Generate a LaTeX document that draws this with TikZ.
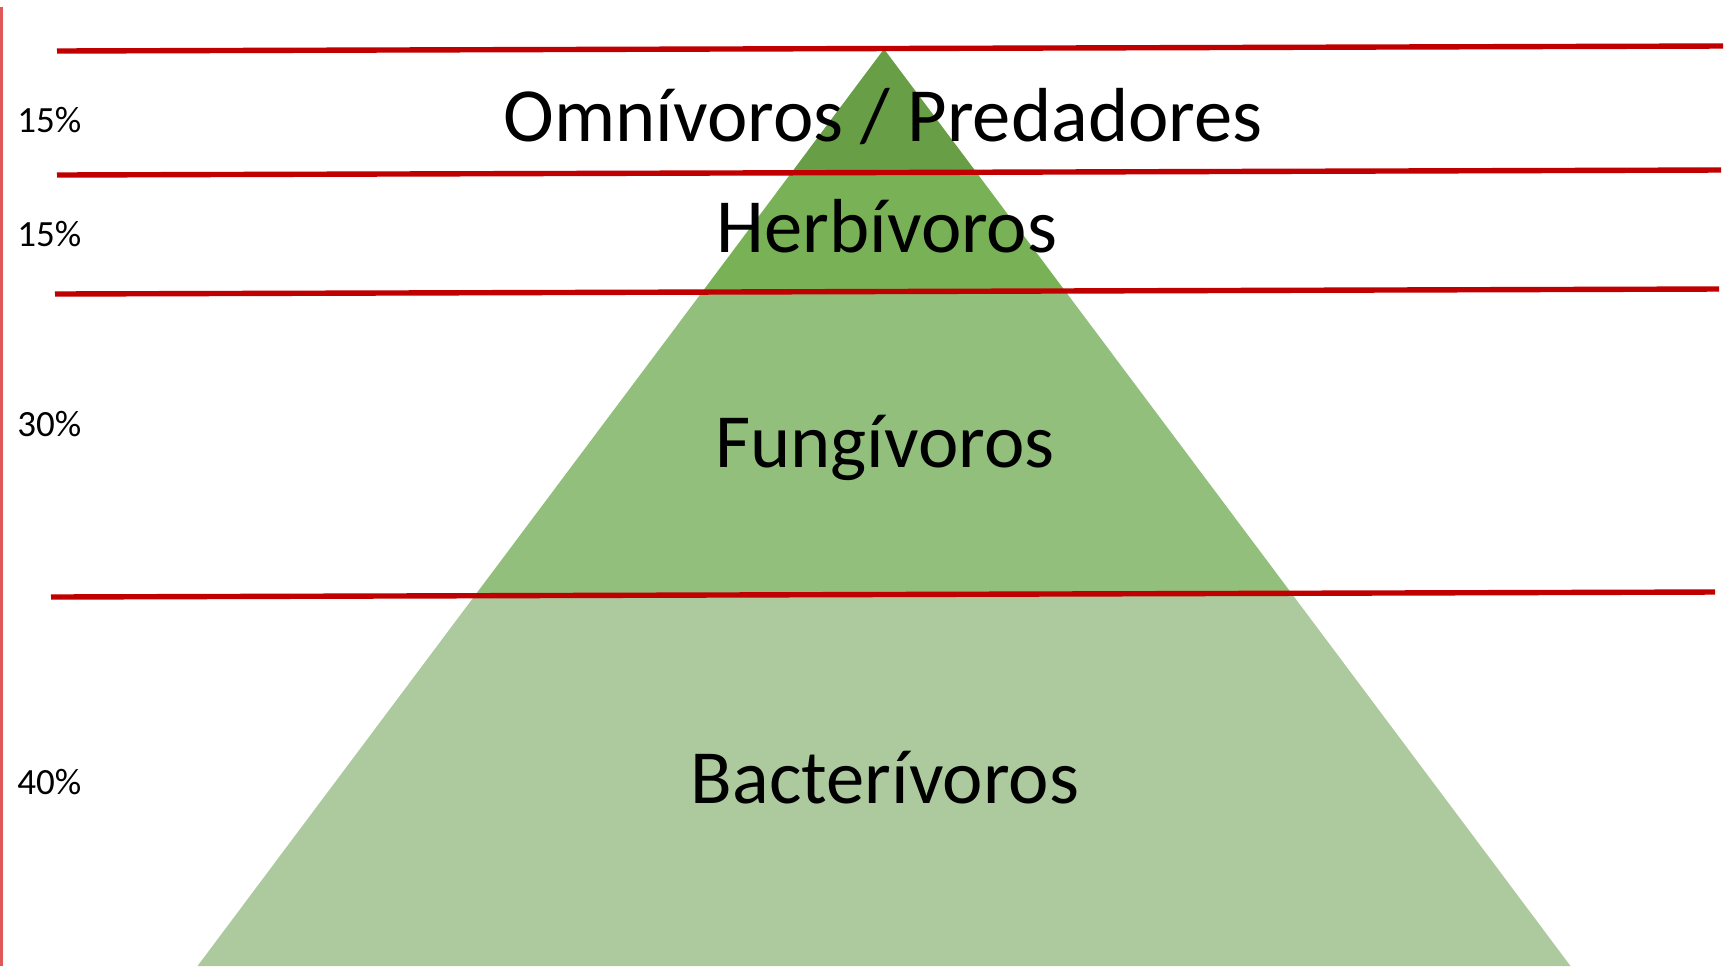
\documentclass[tikz,border=0pt]{standalone}
\usepackage{fontspec}
\setmainfont{Carlito}
\definecolor{tierA}{HTML}{689E45}
\definecolor{tierB}{HTML}{79B256}
\definecolor{tierC}{HTML}{92BF7B}
\definecolor{tierD}{HTML}{ADCA9E}
\definecolor{lineRed}{HTML}{C00000}
\definecolor{sideRed}{HTML}{E05858}
\begin{document}
\begin{tikzpicture}[x=0.5pt,y=-0.5pt,
  redline/.style={draw=lineRed, line width=2.7pt},
  sideline/.style={draw=sideRed, line width=1.1pt},
  tierlabel/.style={font=\fontsize{38.3}{46}\selectfont, anchor=base, inner sep=0pt, text=black},
  pct/.style={font=\fontsize{18.5}{22}\selectfont, anchor=base west, inner sep=0pt, text=black}]
\useasboundingbox (0,0) rectangle (1732,966);
% pyramid tiers
\coordinate (apex) at (884,49);
\coordinate (aL) at (791.5,172.5);  \coordinate (aR) at (976.5,172.5);
\coordinate (bL) at (702.5,291.5);  \coordinate (bR) at (1065.5,291.5);
\coordinate (cL) at (475.6,594.5);  \coordinate (cR) at (1292.4,594.5);
\coordinate (dL) at (197.5,966);    \coordinate (dR) at (1570.5,966);
\fill[tierA] (apex) -- (aR) -- (aL) -- cycle;
\fill[tierB] (aL) -- (aR) -- (bR) -- (bL) -- cycle;
\fill[tierC] (bL) -- (bR) -- (cR) -- (cL) -- cycle;
\fill[tierD] (cL) -- (cR) -- (dR) -- (dL) -- cycle;
% red horizontal lines
\coordinate (l1a) at (57,51);  \coordinate (l1b) at (1723,46);
\coordinate (l2a) at (57,175); \coordinate (l2b) at (1721,170);
\coordinate (l3a) at (55,294); \coordinate (l3b) at (1719,289);
\coordinate (l4a) at (51,597); \coordinate (l4b) at (1715,592);
\draw[redline] (l1a) -- (l1b);
\draw[redline] (l2a) -- (l2b);
\draw[redline] (l3a) -- (l3b);
\draw[redline] (l4a) -- (l4b);
% left side line
\coordinate (sTop) at (1.5,7);
\coordinate (sBot) at (1.5,966);
\draw[sideline] (sTop) -- (sBot);
% tier labels
\node[tierlabel] (omni) at (883,141) {Omnívoros / Predadores};
\node[tierlabel] (herb) at (887,252) {Herbívoros};
\node[tierlabel] (fung) at (885,467) {Fungívoros};
\node[tierlabel] (bact) at (885,803) {Bacterívoros};
% percentages
\node[pct] (p1) at (17,132) {15\%};
\node[pct] (p2) at (17,246) {15\%};
\node[pct] (p3) at (17,436) {30\%};
\node[pct] (p4) at (17,794) {40\%};
\end{tikzpicture}
\end{document}
